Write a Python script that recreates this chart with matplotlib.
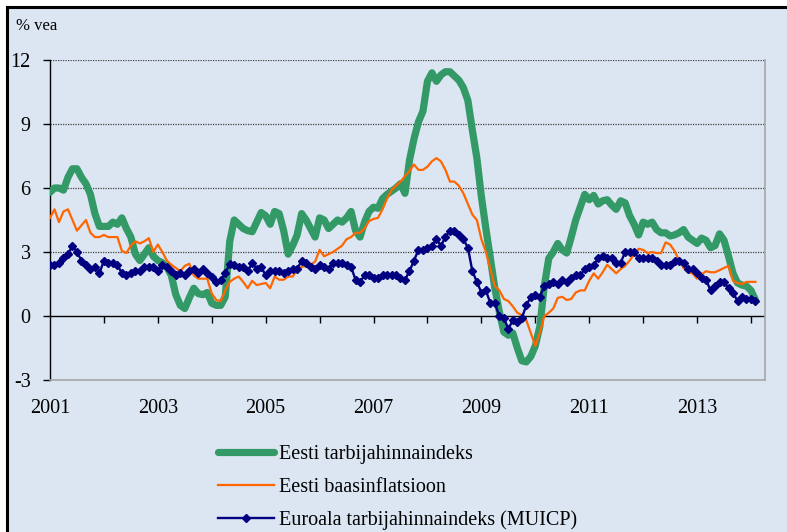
import matplotlib.pyplot as plt
import matplotlib.patches as mpatches
import numpy as np
import pandas as pd

# monthly y/y change, Jan 2001 .. Feb 2014
est_cpi = [
    5.8, 6.0, 6.0, 5.9, 6.5, 6.9, 6.9, 6.5, 6.2, 5.7, 4.8, 4.2,  # 2001
    4.2, 4.2, 4.4, 4.3, 4.6, 4.1, 3.7, 2.9, 2.6, 2.9, 3.2, 2.8,  # 2002
    2.6, 2.5, 2.3, 1.9, 1.0, 0.5, 0.35, 0.85, 1.3, 1.05, 1.0, 1.1,  # 2003
    0.6, 0.5, 0.5, 0.9, 3.5, 4.5, 4.3, 4.1, 4.0, 3.95, 4.4, 4.85,  # 2004
    4.7, 4.3, 4.9, 4.8, 4.0, 2.9, 3.3, 3.8, 4.8, 4.5, 4.1, 3.7,  # 2005
    4.6, 4.5, 4.1, 4.3, 4.5, 4.4, 4.6, 4.9, 4.0, 3.7, 4.4, 4.9,  # 2006
    5.1, 5.05, 5.5, 5.7, 5.85, 6.0, 6.2, 5.75, 7.3, 8.3, 9.1, 9.6,  # 2007
    11.0, 11.4, 11.0, 11.3, 11.45, 11.45, 11.25, 11.05, 10.7, 10.1, 8.7, 7.4,  # 2008
    5.6, 4.1, 2.7, 1.3, 0.2, -0.75, -0.9, -0.8, -1.5, -2.1, -2.15, -1.9,  # 2009
    -1.4, -0.5, 1.4, 2.7, 3.0, 3.4, 3.1, 2.95, 3.7, 4.5, 5.1, 5.7,  # 2010
    5.45, 5.65, 5.25, 5.4, 5.45, 5.2, 5.0, 5.4, 5.3, 4.7, 4.3, 3.8,  # 2011
    4.4, 4.3, 4.4, 4.05, 3.9, 3.9, 3.75, 3.8, 3.9, 4.05, 3.7, 3.55,  # 2012
    3.4, 3.65, 3.55, 3.2, 3.3, 3.85, 3.55, 2.8, 2.0, 1.55, 1.45, 1.4,  # 2013
    1.2, 0.75,  # 2014
]

est_core = [
    4.6, 5.0, 4.4, 4.9, 5.0, 4.5, 4.0, 4.25, 4.5, 3.9, 3.7, 3.7,
    3.8, 3.7, 3.7, 3.7, 3.05, 2.95, 3.3, 3.5, 3.4, 3.5, 3.65, 3.0,
    3.35, 3.0, 2.6, 2.4, 2.25, 2.1, 2.35, 2.45, 1.9, 1.75, 1.75, 1.75,
    1.05, 0.75, 0.7, 1.2, 1.6, 1.75, 1.85, 1.6, 1.3, 1.65, 1.45, 1.5,
    1.55, 1.3, 1.85, 1.7, 1.7, 1.85, 1.85, 2.15, 2.3, 2.35, 2.4, 2.55,
    3.1, 2.8, 2.9, 3.0, 3.15, 3.3, 3.6, 3.7, 3.9, 3.9, 4.1, 4.45,
    4.55, 4.6, 5.0, 5.5, 5.9, 6.1, 6.3, 6.55, 6.8, 7.1, 6.85, 6.85,
    7.0, 7.25, 7.4, 7.25, 6.85, 6.3, 6.3, 6.1, 5.75, 5.25, 4.75, 4.5,
    3.6, 3.0, 2.2, 1.4, 1.2, 0.8, 0.7, 0.45, 0.15, 0.05, -0.2, -0.8,
    -1.4, -0.8, 0.0, 0.15, 0.35, 0.85, 0.9, 0.75, 0.8, 1.1, 1.2, 1.2,
    1.65, 2.0, 1.75, 2.05, 2.4, 2.2, 2.0, 2.2, 2.35, 2.6, 2.9, 3.15,
    3.1, 2.95, 3.0, 2.95, 2.95, 3.45, 3.35, 3.05, 2.6, 2.25, 2.05, 2.0,
    1.75, 1.95, 2.1, 2.05, 2.05, 2.15, 2.25, 2.35, 1.65, 1.55, 1.5, 1.6,
    1.6, 1.6,
]

ea_hicp = [
    2.4, 2.4, 2.5, 2.7, 2.9, 3.3, 3.0, 2.6, 2.4, 2.2, 2.3, 2.0,
    2.6, 2.5, 2.5, 2.4, 2.0, 1.9, 2.0, 2.1, 2.1, 2.3, 2.3, 2.3,
    2.1, 2.4, 2.3, 2.1, 1.9, 2.0, 1.9, 2.1, 2.2, 2.0, 2.2, 2.0,
    1.85, 1.6, 1.7, 2.0, 2.45, 2.4, 2.3, 2.3, 2.1, 2.5, 2.2, 2.3,
    1.9, 2.1, 2.1, 2.1, 2.0, 2.1, 2.2, 2.2, 2.6, 2.5, 2.3, 2.2,
    2.4, 2.3, 2.2, 2.5, 2.5, 2.5, 2.4, 2.3, 1.7, 1.6, 1.9, 1.9,
    1.8, 1.8, 1.9, 1.9, 1.9, 1.9, 1.8, 1.7, 2.1, 2.6, 3.1, 3.1,
    3.2, 3.3, 3.6, 3.3, 3.7, 4.0, 4.0, 3.8, 3.6, 3.2, 2.1, 1.6,
    1.1, 1.2, 0.6, 0.6, 0.0, -0.1, -0.6, -0.2, -0.3, -0.1, 0.5, 0.9,
    1.0, 0.9, 1.4, 1.5, 1.6, 1.5, 1.7, 1.6, 1.8, 1.9, 1.9, 2.2,
    2.3, 2.4, 2.7, 2.8, 2.7, 2.7, 2.5, 2.5, 3.0, 3.0, 3.0, 2.7,
    2.7, 2.7, 2.7, 2.6, 2.4, 2.4, 2.4, 2.6, 2.6, 2.5, 2.2, 2.2,
    2.0, 1.8, 1.7, 1.2, 1.4, 1.6, 1.6, 1.3, 1.1, 0.7, 0.9, 0.8,
    0.8, 0.7,
]

labels = ["Eesti tarbijahinnaindeks", "Eesti baasinflatsioon",
          "Euroala tarbijahinnaindeks (MUICP)"]
year_labels = ["2001", "2003", "2005", "2007", "2009", "2011", "2013"]
y_ticks = [-3, 0, 3, 6, 9, 12]

months = pd.date_range("2001-01-01", periods=len(est_cpi), freq="MS")
x = months.year + (months.month - 1) / 12.0

bg = "#dce6f2"
plt.rcParams["font.family"] = ["Liberation Serif", "DejaVu Serif"]

fig = plt.figure(figsize=(7.87, 5.32), dpi=100, facecolor="white")
# outer panel (cropped on right/bottom)
fig.patches.append(mpatches.Rectangle((7 / 787, -0.05), 1.1, 1 - 7 / 532 + 0.05,
                                      transform=fig.transFigure, facecolor=bg,
                                      edgecolor="black", linewidth=2.2, zorder=-5))

ax = fig.add_axes([50 / 787, 1 - 380 / 532, 715 / 787, 320 / 532])
ax.set_zorder(1)
ax.set_facecolor(bg)

ax.plot(x, est_cpi, color="#339966", lw=5.2, solid_capstyle="round",
        solid_joinstyle="round", label=labels[0], zorder=3)
ax.plot(x, est_core, color="#ff6600", lw=1.6, label=labels[1], zorder=4)
ax.plot(x, ea_hicp, color="#000080", lw=1.7, marker="D", ms=3.6,
        label=labels[2], zorder=5)

ax.set_xlim(2001, 2014.26)
ax.set_ylim(-3, 12)

for v in [3, 6, 9, 12]:
    ax.axhline(v, color="#404040", lw=0.9, ls=(0, (1, 1)), zorder=1)
ax.axhline(0, color="black", lw=1.0, zorder=2)

ax.spines["top"].set_visible(False)
ax.spines["right"].set_color("#a6a6a6")
ax.spines["bottom"].set_color("#a6a6a6")
ax.spines["right"].set_linewidth(1.2)
ax.spines["bottom"].set_linewidth(1.2)
ax.spines["left"].set_color("black")
ax.spines["left"].set_linewidth(1.0)

ax.set_yticks(y_ticks)
ax.set_yticklabels([str(v) for v in y_ticks])
ax.tick_params(axis="y", direction="out", length=5, width=1, pad=9,
               labelsize=14.5, colors="black")

ax.set_xticks([int(v) for v in year_labels])
ax.set_xticklabels(year_labels)
ax.tick_params(axis="x", length=0, pad=14, labelsize=14.5)

# year tick marks on the zero line
sec = ax.secondary_xaxis(0.2)
sec.set_xticks(np.arange(2002, 2015))
sec.set_xticklabels([])
sec.tick_params(axis="x", direction="out", length=5, width=1, color="black")
sec.spines["bottom"].set_visible(False)

fig.text(16 / 787, 1 - 26 / 532, "% vea", fontsize=12, va="center", ha="left")

fig.legend(loc="upper left", bbox_to_anchor=(210 / 787, 1 - 437 / 532),
           frameon=False, fontsize=14.5, handlelength=2.8, handletextpad=0.25,
           labelspacing=0.68, borderaxespad=0, numpoints=1)

fig.savefig("out.png", dpi=100, facecolor=fig.get_facecolor())
